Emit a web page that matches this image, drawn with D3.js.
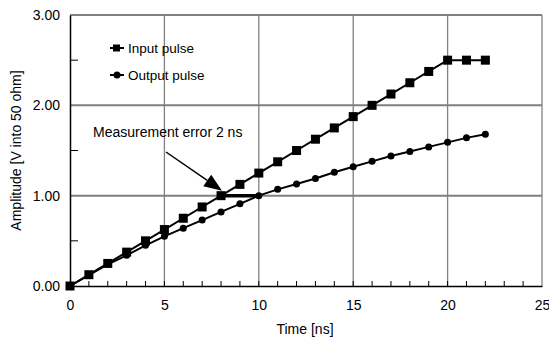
<!DOCTYPE html>
<html>
<head>
<meta charset="utf-8">
<script src="https://cdn.jsdelivr.net/npm/d3@7"></script>
<style>
  body { margin: 0; background: #fff; }
  text { font-family: "Liberation Sans", Arial, sans-serif; fill: #000; }
</style>
</head>
<body>
<div id="chart"></div>
<script>
// time in ns
const timeNs = d3.range(0, 23);
const inputPulse = [0, 0.125, 0.25, 0.375, 0.5, 0.625, 0.75, 0.875, 1.0, 1.125, 1.25, 1.375,
    1.5, 1.625, 1.75, 1.875, 2.0, 2.125, 2.25, 2.375, 2.5, 2.5, 2.5];
const outputPulse = [0, 0.12, 0.24, 0.34, 0.45, 0.55, 0.64, 0.73, 0.82, 0.91, 1.0, 1.07,
    1.13, 1.19, 1.26, 1.32, 1.38, 1.44, 1.49, 1.54, 1.59, 1.64, 1.68];
const xTicks = [0, 5, 10, 15, 20, 25];
const yTicks = [0, 1, 2, 3];
const errorSpan = [8, 10];   // measurement error, ns
const errorLevel = 1.0;

const width = 549, height = 340;
const margin = { top: 15, right: 7, bottom: 54, left: 70 };

const svg = d3.select("#chart").append("svg")
    .attr("width", width)
    .attr("height", height);

const x = d3.scaleLinear().domain([0, 25]).range([margin.left, width - margin.right]);
const y = d3.scaleLinear().domain([0, 3]).range([height - margin.bottom, margin.top]);

const grid = "#808080";

// gridlines
svg.append("g").selectAll("line")
    .data([5, 10, 15, 20, 25])
    .join("line")
    .attr("x1", d => x(d)).attr("x2", d => x(d))
    .attr("y1", y(0)).attr("y2", y(3))
    .attr("stroke", grid).attr("stroke-width", 1.3);

svg.append("g").selectAll("line")
    .data([1, 2, 3])
    .join("line")
    .attr("x1", x(0)).attr("x2", x(25))
    .attr("y1", d => y(d)).attr("y2", d => y(d))
    .attr("stroke", grid).attr("stroke-width", 2);

// axes
const xAxis = svg.append("g")
    .attr("transform", `translate(0,${y(0)})`)
    .call(d3.axisBottom(x).tickValues(xTicks).tickSize(0).tickPadding(14));
xAxis.select(".domain").attr("stroke", "#000").attr("stroke-width", 1.5);
xAxis.selectAll("text").style("font-size", "14px").style("font-family", "Liberation Sans, Arial");

// minor x ticks, pointing up
svg.append("g").selectAll("line")
    .data(d3.range(1, 25))
    .join("line")
    .attr("x1", d => x(d)).attr("x2", d => x(d))
    .attr("y1", y(0)).attr("y2", y(0) - 5)
    .attr("stroke", "#000").attr("stroke-width", 1);

const yAxis = svg.append("g")
    .attr("transform", `translate(${x(0)},0)`)
    .call(d3.axisLeft(y).tickValues(yTicks).tickFormat(d3.format(".2f")).tickSize(0).tickPadding(10));
yAxis.select(".domain").attr("stroke", "#000").attr("stroke-width", 1.5);
yAxis.selectAll("text").style("font-size", "14px").style("font-family", "Liberation Sans, Arial");

// minor y ticks, pointing right
svg.append("g").selectAll("line")
    .data([0.5, 1.5, 2.5])
    .join("line")
    .attr("x1", x(0)).attr("x2", x(0) + 8)
    .attr("y1", d => y(d)).attr("y2", d => y(d))
    .attr("stroke", "#000").attr("stroke-width", 1);

// axis titles
svg.append("text")
    .attr("x", 305)
    .attr("y", 334)
    .attr("text-anchor", "middle")
    .style("font-size", "14px")
    .text("Time [ns]");

svg.append("text")
    .attr("transform", `translate(21,${(y(0) + y(3)) / 2}) rotate(-90)`)
    .attr("text-anchor", "middle")
    .style("font-size", "14px")
    .text("Amplitude [V into 50 ohm]");

// series
const line = d3.line().x((d, i) => x(timeNs[i])).y(d => y(d));

svg.append("path")
    .datum(outputPulse)
    .attr("d", line)
    .attr("fill", "none").attr("stroke", "#000").attr("stroke-width", 2);

svg.append("path")
    .datum(inputPulse)
    .attr("d", line)
    .attr("fill", "none").attr("stroke", "#000").attr("stroke-width", 2);

svg.append("g").selectAll("circle")
    .data(outputPulse)
    .join("circle")
    .attr("cx", (d, i) => x(timeNs[i]))
    .attr("cy", d => y(d))
    .attr("r", 3.5)
    .attr("fill", "#000");

svg.append("g").selectAll("rect")
    .data(inputPulse)
    .join("rect")
    .attr("x", (d, i) => x(timeNs[i]) - 4.5)
    .attr("y", d => y(d) - 4.5)
    .attr("width", 9).attr("height", 9)
    .attr("fill", "#000");

// measurement error bar
svg.append("line")
    .attr("x1", x(errorSpan[0])).attr("x2", x(errorSpan[1]))
    .attr("y1", y(errorLevel)).attr("y2", y(errorLevel))
    .attr("stroke", "#000").attr("stroke-width", 3.5);

// annotation arrow with a large filled head
const a0 = [166, 152];
const a1 = [x(errorSpan[0]) + 1, y(errorLevel) - 5];
const ang = Math.atan2(a1[1] - a0[1], a1[0] - a0[0]);
const headLen = 18, headW = 7;
const bx = a1[0] - headLen * Math.cos(ang), by = a1[1] - headLen * Math.sin(ang);
svg.append("line")
    .attr("x1", a0[0]).attr("y1", a0[1])
    .attr("x2", bx).attr("y2", by)
    .attr("stroke", "#000").attr("stroke-width", 1.5);
svg.append("path")
    .attr("d", `M${a1[0]},${a1[1]}L${bx - headW * Math.sin(ang)},${by + headW * Math.cos(ang)}L${bx + headW * Math.sin(ang)},${by - headW * Math.cos(ang)}Z`)
    .attr("fill", "#000");

svg.append("text")
    .attr("x", 93).attr("y", 137)
    .style("font-size", "14px")
    .text("Measurement error 2 ns");

// legend
const legend = [
    { label: "Input pulse", shape: "square", ty: 48 },
    { label: "Output pulse", shape: "circle", ty: 75 }
];
const lg = svg.append("g").selectAll("g")
    .data(legend)
    .join("g")
    .attr("transform", d => `translate(110,${d.ty})`);
lg.append("line")
    .attr("x1", 0).attr("x2", 14)
    .attr("stroke", "#000").attr("stroke-width", 2);
lg.filter(d => d.shape === "square").append("rect")
    .attr("x", 3).attr("y", -3.5).attr("width", 7).attr("height", 7).attr("fill", "#000");
lg.filter(d => d.shape === "circle").append("circle")
    .attr("cx", 7).attr("r", 3.5).attr("fill", "#000");
lg.append("text")
    .attr("x", 18).attr("dy", "0.35em")
    .style("font-size", "13.5px")
    .text(d => d.label);
</script>
</body>
</html>
